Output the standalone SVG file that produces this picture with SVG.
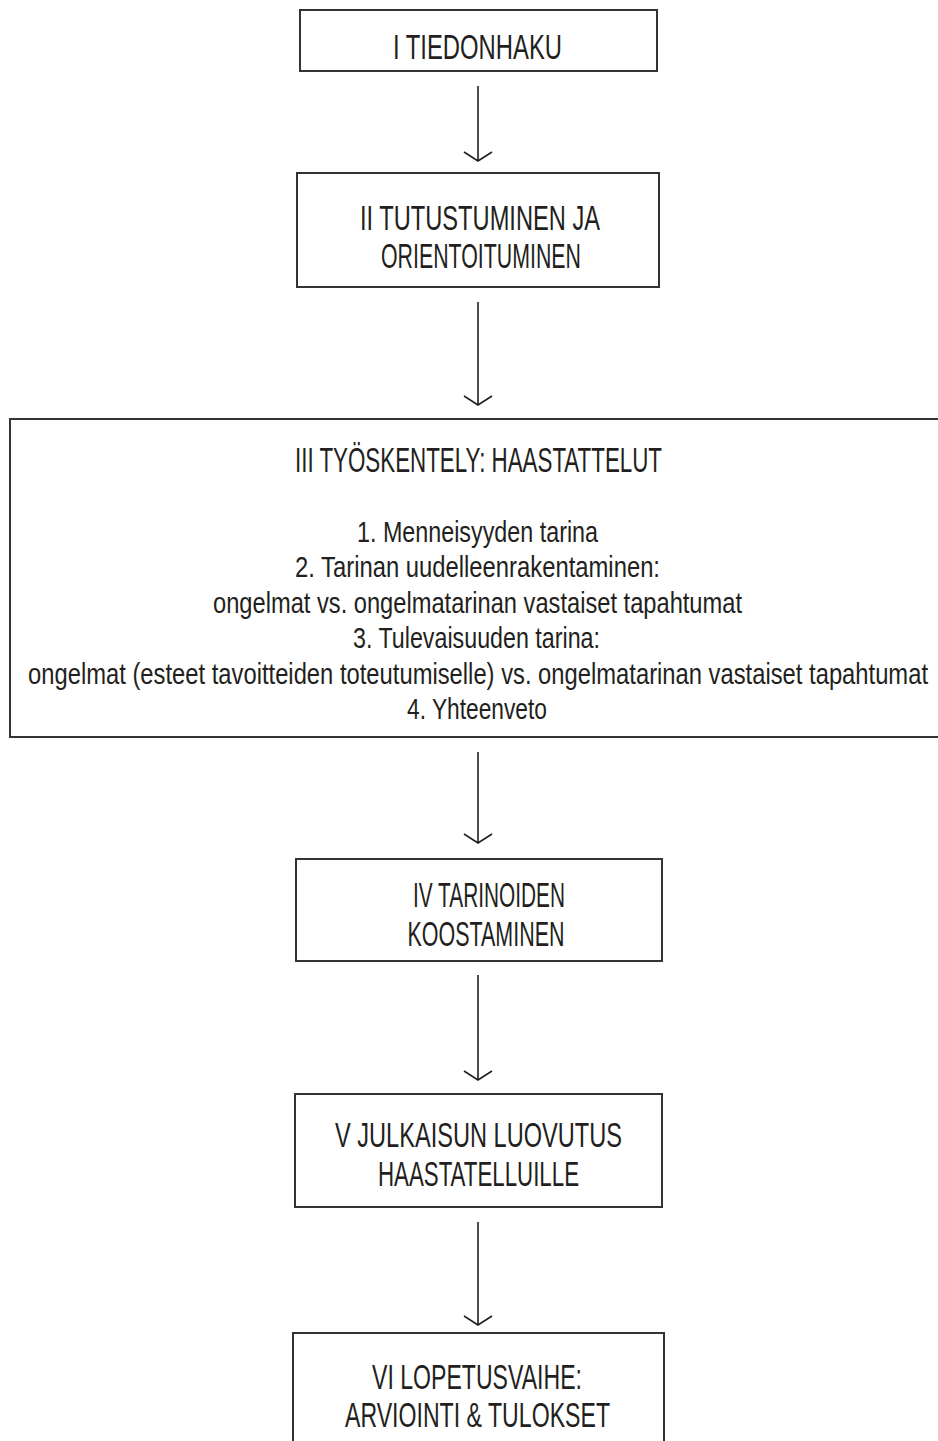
<svg xmlns="http://www.w3.org/2000/svg" width="938" height="1441" viewBox="0 0 938 1441">
<defs>
<style>
.box{fill:#fff;stroke:#333;stroke-width:2}
.t{font-family:"Liberation Sans",Arial,sans-serif;font-size:35px;fill:#231f20;text-anchor:middle}
.b{font-family:"Liberation Sans",Arial,sans-serif;font-size:30px;fill:#231f20;text-anchor:middle}
.c{stroke:#231f20;stroke-width:1.6;fill:none}
</style>
</defs>
<rect width="938" height="1441" fill="#fff"/>
<g id="connectors">
<path class="c" d="M478 86V161M464 152L478 161L492 152"/>
<path class="c" d="M478 302V405M464 396L478 405L492 396"/>
<path class="c" d="M478 752V843M464 834L478 843L492 834"/>
<path class="c" d="M478 975V1080M464 1071L478 1080L492 1071"/>
<path class="c" d="M478 1222V1325M464 1316L478 1325L492 1316"/>
</g>
<g id="n1">
<rect class="box" x="300" y="10" width="357" height="61"/>
<text class="t" x="477.5" y="59" textLength="169" lengthAdjust="spacingAndGlyphs">I TIEDONHAKU</text>
</g>
<g id="n2">
<rect class="box" x="297" y="173" width="362" height="114"/>
<text class="t" x="480" y="230" textLength="240" lengthAdjust="spacingAndGlyphs">II TUTUSTUMINEN JA</text>
<text class="t" x="481" y="268" textLength="200" lengthAdjust="spacingAndGlyphs">ORIENTOITUMINEN</text>
</g>
<g id="n3">
<rect class="box" x="10" y="419" width="940" height="318"/>
<text class="t" x="478.5" y="472" textLength="367" lengthAdjust="spacingAndGlyphs">III TYÖSKENTELY: HAASTATTELUT</text>
<text class="b" x="477.5" y="542" textLength="241" lengthAdjust="spacingAndGlyphs">1. Menneisyyden tarina</text>
<text class="b" x="477.5" y="577" textLength="365" lengthAdjust="spacingAndGlyphs">2. Tarinan uudelleenrakentaminen:</text>
<text class="b" x="477.5" y="613" textLength="529" lengthAdjust="spacingAndGlyphs">ongelmat vs. ongelmatarinan vastaiset tapahtumat</text>
<text class="b" x="476.5" y="648" textLength="247" lengthAdjust="spacingAndGlyphs">3. Tulevaisuuden tarina:</text>
<text class="b" transform="translate(478 684) scale(0.72 1)" x="0" y="0" textLength="1250" lengthAdjust="spacingAndGlyphs">ongelmat (esteet tavoitteiden toteutumiselle) vs. ongelmatarinan vastaiset tapahtumat</text>
<text class="b" x="477" y="719" textLength="140" lengthAdjust="spacingAndGlyphs">4. Yhteenveto</text>
</g>
<g id="n4">
<rect class="box" x="296" y="859" width="366" height="102"/>
<text class="t" x="489" y="907" textLength="152" lengthAdjust="spacingAndGlyphs">IV TARINOIDEN</text>
<text class="t" x="486" y="946" textLength="157" lengthAdjust="spacingAndGlyphs">KOOSTAMINEN</text>
</g>
<g id="n5">
<rect class="box" x="295" y="1094" width="367" height="113"/>
<text class="t" x="478.5" y="1147" textLength="287" lengthAdjust="spacingAndGlyphs">V JULKAISUN LUOVUTUS</text>
<text class="t" x="478.5" y="1186" textLength="201" lengthAdjust="spacingAndGlyphs">HAASTATELLUILLE</text>
</g>
<g id="n6">
<rect class="box" x="293" y="1333" width="371" height="140"/>
<text class="t" x="477" y="1389" textLength="210" lengthAdjust="spacingAndGlyphs">VI LOPETUSVAIHE:</text>
<text class="t" x="477.5" y="1427" textLength="265" lengthAdjust="spacingAndGlyphs">ARVIOINTI &amp; TULOKSET</text>
</g>
</svg>
